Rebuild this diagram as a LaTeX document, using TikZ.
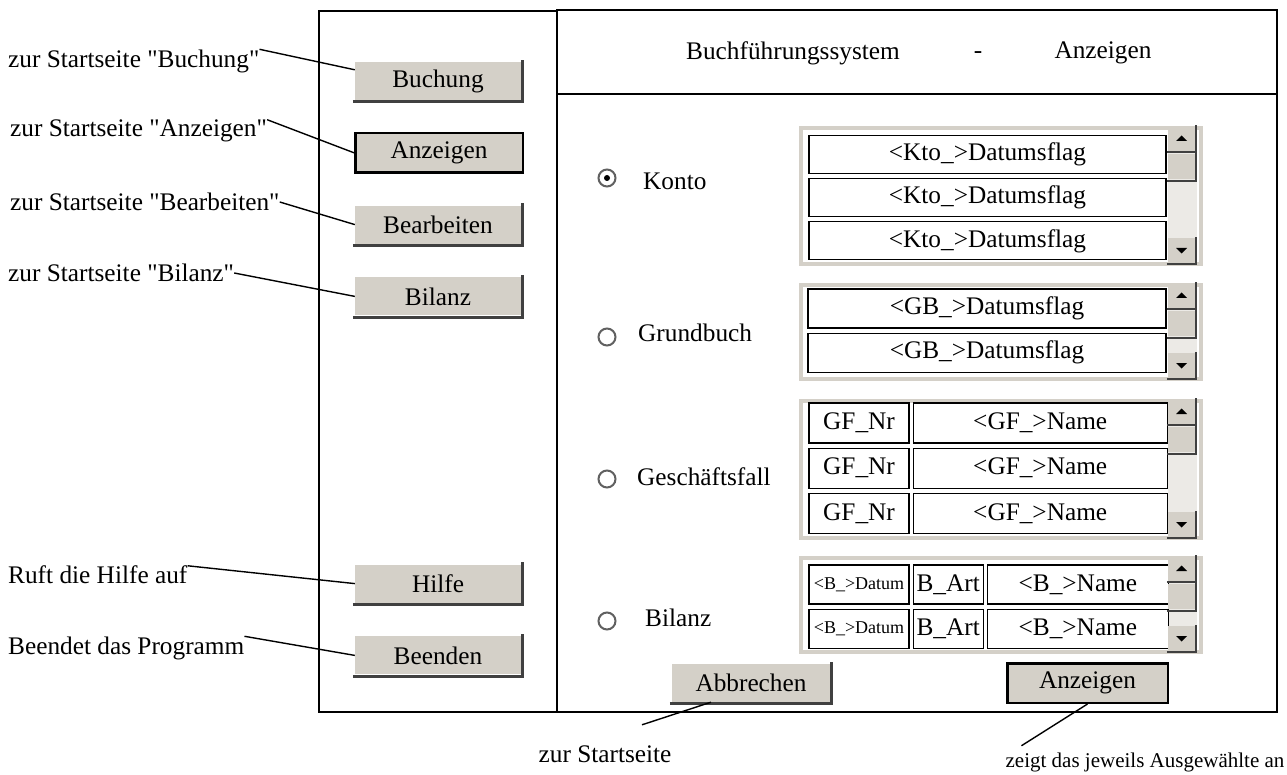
\documentclass[tikz,border=0pt]{standalone}
\usepackage{fontspec}
\setmainfont{Liberation Serif}
\usepackage{tikz}
\usetikzlibrary{positioning}
\definecolor{wingrau}{HTML}{D4D0C8}
\definecolor{schatten}{HTML}{404040}
\definecolor{bahngrau}{HTML}{ECEAE6}
\newcommand{\gz}{\textquotedbl}
\tikzset{
  knopf/.style={
    rectangle,
    minimum width=158pt,
    minimum height=38pt,
    inner sep=0pt,
    fill=wingrau,
    append after command={\pgfextra{\draw[schatten, line width=3pt]
      ([xshift=-2pt,yshift=-1.5pt]\tikzlastnode.south west) --
      ([xshift=1.5pt,yshift=-1.5pt]\tikzlastnode.south east) --
      ([xshift=1.5pt,yshift=2pt]\tikzlastnode.north east);}}
    },
  aktiv/.style={
    rectangle,
    minimum width=167.5pt,
    minimum height=39.5pt,
    inner sep=0pt,
    fill=wingrau,
    draw=black,
    line width=2.5pt,
    append after command={\pgfextra{\draw[gray!55!black, line width=2pt]
      ([xshift=3.5pt,yshift=3.5pt]\tikzlastnode.south west) --
      ([xshift=-3.5pt,yshift=3.5pt]\tikzlastnode.south east) --
      ([xshift=-3.5pt,yshift=-3.5pt]\tikzlastnode.north east);}}
    },
  pfeil/.style={
    rectangle,
    minimum width=27pt,
    minimum height=25pt,
    inner sep=0pt,
    fill=wingrau,
    append after command={\pgfextra{\draw[schatten, line width=2pt]
      ([xshift=-1pt,yshift=-1pt]\tikzlastnode.south west) --
      ([xshift=1pt,yshift=-1pt]\tikzlastnode.south east) --
      ([xshift=1pt,yshift=1pt]\tikzlastnode.north east);}}
    },
  pfeilauf/.style={pfeil, path picture={\fill[black] (path picture bounding box.center)
      ++(-5.5pt,-2.5pt) -- ++(11pt,0pt) -- ++(-5.5pt,5.5pt) -- cycle;}},
  pfeilab/.style={pfeil, path picture={\fill[black] (path picture bounding box.center)
      ++(-5.5pt,2.5pt) -- ++(11pt,0pt) -- ++(-5.5pt,-5.5pt) -- cycle;}},
  griff/.style={pfeil},
  bahn/.style={rectangle, minimum width=29pt, inner sep=0pt, fill=bahngrau},
  liste/.style={rectangle, draw=wingrau, line width=3.5pt, fill=white, inner sep=0pt},
  zeile/.style={rectangle, draw=black, line width=1.2pt, fill=white, inner sep=0pt},
  klein/.style={font=\fontsize{18}{20}\selectfont},
  radio/.style={circle, draw=gray!75!black, line width=2pt, fill=white,
    minimum size=17pt, inner sep=0pt},
  gewaehlt/.style={radio, path picture={\fill[black] (path picture bounding box.center) circle (3pt);}},
  beschrift/.style={anchor=west, inner sep=0pt},
  linie/.style={line width=1.4pt},
  rahmen/.style={line width=1.8pt},
}

\begin{document}
\begin{tikzpicture}[
  x=1pt, y=-1pt,
  font=\fontsize{25.3}{30}\selectfont,
  node distance=71.8pt
  ]
\useasboundingbox (0,0) rectangle (1287,775);
% Fenster
\draw [rahmen] (319,11) rectangle (557,712);
\draw [rahmen] (557,10) rectangle (1277,712);
\draw [rahmen] (557,94) -- (1277,94);
\node (titel) at (793,53) {Buchführungssystem};
\node (strich) at (978,55) {-};
\node (titel2) at (1103,53) {Anzeigen};

% Navigation links
\node (buchung) [knopf, minimum width=166pt] at (438,81) {Buchung};
\node (anzeigen) [aktiv, below of=buchung, xshift=1pt] {Anzeigen};
\node (bearbeiten) [knopf, minimum width=166pt, below of=anzeigen, xshift=-1pt] {Bearbeiten};
\node (bilanz) [knopf, minimum width=166pt, below of=bearbeiten] {Bilanz};
\node (hilfe) [knopf, minimum width=166pt, below of=bilanz, yshift=-215.4pt] {Hilfe};
\node (beenden) [knopf, minimum width=166pt, below of=hilfe] {Beenden};

\node (lbuchung) [beschrift] at (8,61) {zur Startseite \gz Buchung\gz};
\node (lanzeigen) [beschrift] at (10,131) {zur Startseite \gz Anzeigen\gz};
\node (lbearbeiten) [beschrift] at (10,202) {zur Startseite \gz Bearbeiten\gz};
\node (lbilanz) [beschrift] at (8,273) {zur Startseite \gz Bilanz\gz};
\node (lhilfe) [beschrift] at (8,575) {Ruft die Hilfe auf};
\node (lbeenden) [beschrift] at (8,648) {Beendet das Programm};

\draw [linie] (lbuchung.north east) -- ([yshift=-8pt]buchung.north west);
\draw [linie] (lanzeigen.north east) -- (anzeigen.west);
\draw [linie] (lbearbeiten.east) -- (bearbeiten.west);
\draw [linie] (lbilanz.east) -- (bilanz.west);
\draw [linie] (lhilfe.north east) -- (hilfe.west);
\draw [linie] (lbeenden.north east) -- (beenden.west);

% Konto
\node (rkonto) [gewaehlt] at (607,178) {};
\node (tkonto) [beschrift] at (643,181) {Konto};
\node (ktoliste) [liste, minimum width=400pt, minimum height=136pt] at (1001,196) {};
\node (ktobahn) [bahn, minimum height=136pt] at (1182.5,196) {};
\node (kto1) [zeile, minimum width=357pt, minimum height=38pt] at (987.5,154.5) {<Kto\_>Datumsflag};
\node (kto2) [zeile, minimum width=357pt, minimum height=38pt, below=4pt of kto1] {<Kto\_>Datumsflag};
\node (kto3) [zeile, minimum width=357pt, minimum height=38pt, below=4pt of kto2] {<Kto\_>Datumsflag};
\node (ktoauf) [pfeilauf] at (1181.5,138.5) {};
\node (ktogriff) [griff, below=3pt of ktoauf] {};
\node (ktoab) [pfeilab] at (1181.5,250.5) {};

% Grundbuch
\node (rgb) [radio] at (607,337) {};
\node (tgb) [beschrift] at (638,333) {Grundbuch};
\node (gbliste) [liste, minimum width=400pt, minimum height=94pt] at (1001,332) {};
\node (gbbahn) [bahn, minimum height=94pt] at (1182.5,332) {};
\node (gb1) [zeile, minimum width=358pt, minimum height=39pt] at (987,308.5) {<GB\_>Datumsflag};
\node (gb2) [zeile, minimum width=358pt, minimum height=39pt, below=4pt of gb1] {<GB\_>Datumsflag};
\node (gbauf) [pfeilauf] at (1181.5,295.5) {};
\node (gbgriff) [griff, below=3pt of gbauf] {};
\node (gbab) [pfeilab] at (1181.5,365.5) {};

% Geschaeftsfall
\node (rgf) [radio] at (607,479) {};
\node (tgf) [beschrift] at (637,477) {Geschäftsfall};
\node (gfliste) [liste, minimum width=400pt, minimum height=137pt] at (1001,469.5) {};
\node (gfbahn) [bahn, minimum height=137pt] at (1182.5,469.5) {};
\node (gfnr1) [zeile, minimum width=100pt, minimum height=40pt] at (859,423) {GF\_Nr};
\node (gfname1) [zeile, minimum width=254pt, minimum height=40pt, right=3pt of gfnr1] {<GF\_>Name};
\node (gfnr2) [zeile, minimum width=100pt, minimum height=40pt, below=4pt of gfnr1] {GF\_Nr};
\node (gfname2) [zeile, minimum width=254pt, minimum height=40pt, right=3pt of gfnr2] {<GF\_>Name};
\node (gfnr3) [zeile, minimum width=100pt, minimum height=40pt, below=4pt of gfnr2] {GF\_Nr};
\node (gfname3) [zeile, minimum width=254pt, minimum height=40pt, right=3pt of gfnr3] {<GF\_>Name};
\node (gfauf) [pfeilauf] at (1181.5,411.5) {};
\node (gfgriff) [griff, below=3pt of gfauf] {};
\node (gfab) [pfeilab] at (1181.5,524.5) {};

% Bilanz
\node (rbil) [radio] at (607,621) {};
\node (tbil) [beschrift] at (645,618) {Bilanz};
\node (bliste) [liste, minimum width=400pt, minimum height=94pt] at (1001,605) {};
\node (bbahn) [bahn, minimum height=94pt] at (1182.5,605) {};
\node (bdat1) [zeile, klein, minimum width=100pt, minimum height=39pt] at (859,584.5) {<B\_>Datum};
\node (bart1) [zeile, minimum width=70pt, minimum height=39pt, right=3pt of bdat1] {B\_Art};
\node (bname1) [zeile, minimum width=181pt, minimum height=39pt, right=3pt of bart1] {<B\_>Name};
\node (bdat2) [zeile, klein, minimum width=100pt, minimum height=39pt, below=4pt of bdat1] {<B\_>Datum};
\node (bart2) [zeile, minimum width=70pt, minimum height=39pt, right=3pt of bdat2] {B\_Art};
\node (bname2) [zeile, minimum width=181pt, minimum height=39pt, right=3pt of bart2] {<B\_>Name};
\node (bauf) [pfeilauf] at (1181.5,568.5) {};
\node (bgriff) [griff, below=3pt of bauf] {};
\node (bab) [pfeilab] at (1181.5,638.5) {};

% Knoepfe unten
\node (abbrechen) [knopf] at (751,683) {Abbrechen};
\node (anzeigen2) [aktiv, minimum width=160.5pt] at (1087.5,683) {Anzeigen};
\node (lstart) [inner sep=0pt] at (605,754.5) {zur Startseite};
\node (lzeigt) [inner sep=0pt, font=\fontsize{21}{24}\selectfont] at (1145,762.5) {zeigt das jeweils Ausgewählte an};
\draw [linie] ([xshift=-40pt]abbrechen.south) -- ([xshift=37pt,yshift=21pt]lstart.north);
\draw [linie] (anzeigen2.south) -- ([xshift=16pt,yshift=7pt]lzeigt.north west);
\end{tikzpicture}
\end{document}
